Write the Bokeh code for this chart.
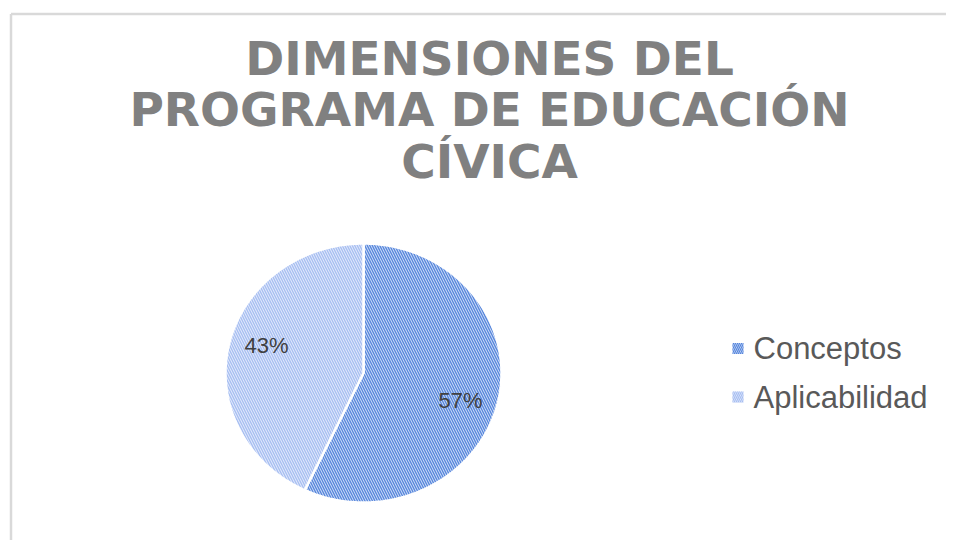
import numpy as np
from bokeh.plotting import figure
from bokeh.models import Range1d, ColumnDataSource
from bokeh.core.properties import value
from bokeh.embed import file_html
from bokeh.resources import INLINE

# ---- data ----
title_lines = ["DIMENSIONES DEL", "PROGRAMA DE EDUCACIÓN", "CÍVICA"]
categories = ["Conceptos", "Aplicabilidad"]
shares = [57, 43]
pct_labels = ["57%", "43%"]
fill_colors = ["#ccdbf6", "#e2e9fb"]
hatch_colors = ["#5585dc", "#a6bef1"]

W, H = 946, 540
p = figure(width=W, height=H, x_range=Range1d(-8, W - 8), y_range=Range1d(H - 8, -8),
           output_backend="svg", toolbar_location=None, min_border=0,
           x_axis_location=None, y_axis_location=None)
p.grid.visible = False
p.outline_line_color = None
p.background_fill_color = "white"
p.border_fill_color = "white"

# frame (top and left edges visible in the crop)
p.segment(x0=[2.5, 2.5], y0=[5.5, 5.5], x1=[W, 2.5], y1=[5.5, H],
          line_color="#d9d9d9", line_width=2.5)

# title
p.text(x=[481] * 3, y=[49.5, 100.5, 153], text=title_lines,
       text_font=value("DejaVu Sans"), text_font_style="bold",
       text_font_size="47px", text_color="#808080",
       text_align="center", text_baseline="middle")

# pie (slightly elliptical, as in the reference)
cx, cy, rx, ry = 355, 364.5, 138, 129.5
total = float(sum(shares))
edges = np.cumsum([0] + shares) / total * 2 * np.pi
xs, ys, lx, ly = [], [], [], []
for a0, a1 in zip(edges[:-1], edges[1:]):
    t = np.linspace(a0, a1, 240)
    xs.append(np.concatenate([[cx], cx + rx * np.sin(t)]))
    ys.append(np.concatenate([[cy], cy - ry * np.cos(t)]))
    m = (a0 + a1) / 2
    lx.append(cx + rx * 0.72 * np.sin(m))
    ly.append(cy - ry * 0.98 * np.cos(m))

src = ColumnDataSource(dict(xs=xs, ys=ys, fill=fill_colors, hatch=hatch_colors,
                            cat=categories))
p.patches("xs", "ys", source=src, fill_color="fill", hatch_color="hatch",
          hatch_pattern="\\", hatch_scale=5, hatch_weight=1.3,
          line_color="white", line_width=2.5)

p.text(x=lx, y=ly, text=pct_labels, text_font=value("Liberation Sans"),
       text_font_size="22px", text_color="#404040",
       text_align="center", text_baseline="middle")

# legend
leg_y = [340, 388.5]
p.rect(x=[729.5, 729.5], y=leg_y, width=11, height=11,
       fill_color=fill_colors, hatch_color=hatch_colors, hatch_pattern="\\",
       hatch_scale=4, hatch_weight=1.2, line_color=None)
p.text(x=[745, 745], y=leg_y, text=categories, text_font=value("Liberation Sans"),
       text_font_size="31px", text_color="#595959",
       text_align="left", text_baseline="middle")

open("out.html", "w").write(file_html(p, INLINE))
